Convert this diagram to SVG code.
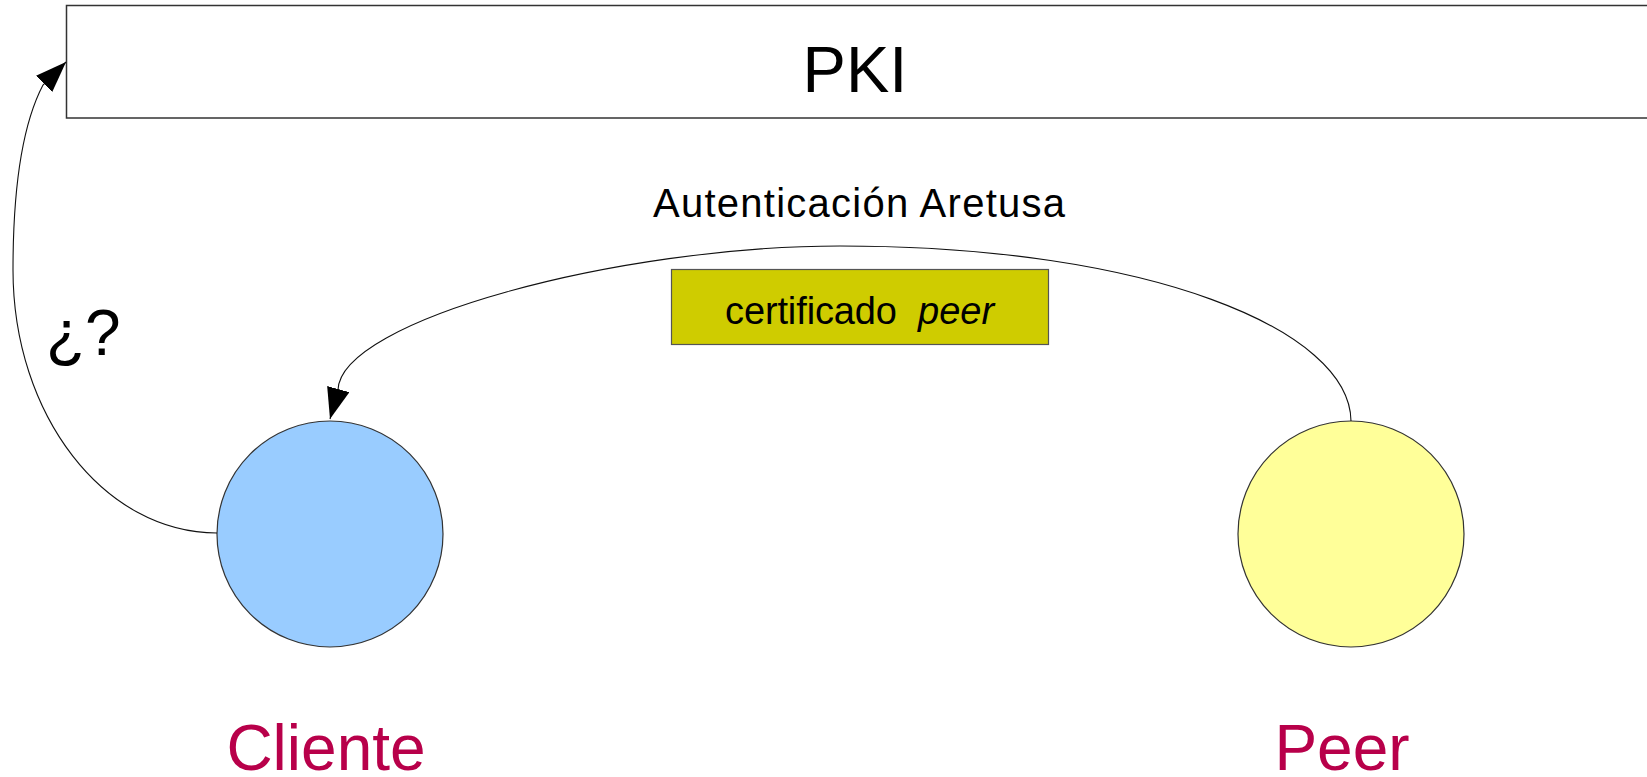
<svg xmlns="http://www.w3.org/2000/svg" width="1647" height="777" viewBox="0 0 1647 777">
  <style>
    .lbl { font-family: "Liberation Sans", Arial, sans-serif; fill: #000; }
    .name { font-family: "Liberation Sans", Arial, sans-serif; fill: #b8004a; font-size: 64px; text-anchor: middle; }
    .edge { fill: none; stroke: #111; stroke-width: 1.1; }
    .node { stroke: #333; stroke-width: 1.2; }
  </style>
  <defs>
    <marker id="arrow" markerUnits="userSpaceOnUse" markerWidth="32" markerHeight="24" refX="31" refY="11.5" orient="auto">
      <path d="M0,0 L31,11.5 L0,23 z" fill="#000"/>
    </marker>
  </defs>
  <rect width="1647" height="777" fill="#fff"/>

  <!-- PKI bar across the top -->
  <g id="pki">
    <rect x="66.5" y="5.5" width="1600" height="112.5" fill="#fff" stroke="#333" stroke-width="1.5"/>
    <text class="lbl" x="855" y="92" font-size="65" text-anchor="middle">PKI</text>
  </g>

  <!-- certificate label -->
  <g id="certificado">
    <rect x="671.5" y="269.5" width="377" height="75" fill="#cfcc00" stroke="#555" stroke-width="1.2"/>
    <text class="lbl" y="324" font-size="38"><tspan x="725" textLength="172" lengthAdjust="spacing">certificado</tspan><tspan x="918" font-style="italic">peer</tspan></text>
  </g>

  <!-- client node -->
  <g id="cliente">
    <circle class="node" cx="330" cy="534" r="113" fill="#99ccff"/>
    <text class="name" x="326" y="770">Cliente</text>
  </g>

  <!-- peer node -->
  <g id="peer">
    <circle class="node" cx="1351" cy="534" r="113" fill="#ffff99"/>
    <text class="name" x="1342" y="770">Peer</text>
  </g>

  <!-- connectors -->
  <g id="connectors">
    <path class="edge" d="M1351,421 C1350,330 1150,246 840,246 C620,246 340,320 338,390 L330,419" marker-end="url(#arrow)"/>
    <path class="edge" d="M217,533 C104,533 13,415 13,270 C13,190 22,125 43,85 L66,62" marker-end="url(#arrow)"/>
  </g>

  <!-- connector labels -->
  <g id="labels">
    <text class="lbl" x="859" y="217" font-size="40" text-anchor="middle" textLength="412" lengthAdjust="spacing">Autenticación Aretusa</text>
    <text class="lbl" x="46" y="355" font-size="64">¿?</text>
  </g>
</svg>
